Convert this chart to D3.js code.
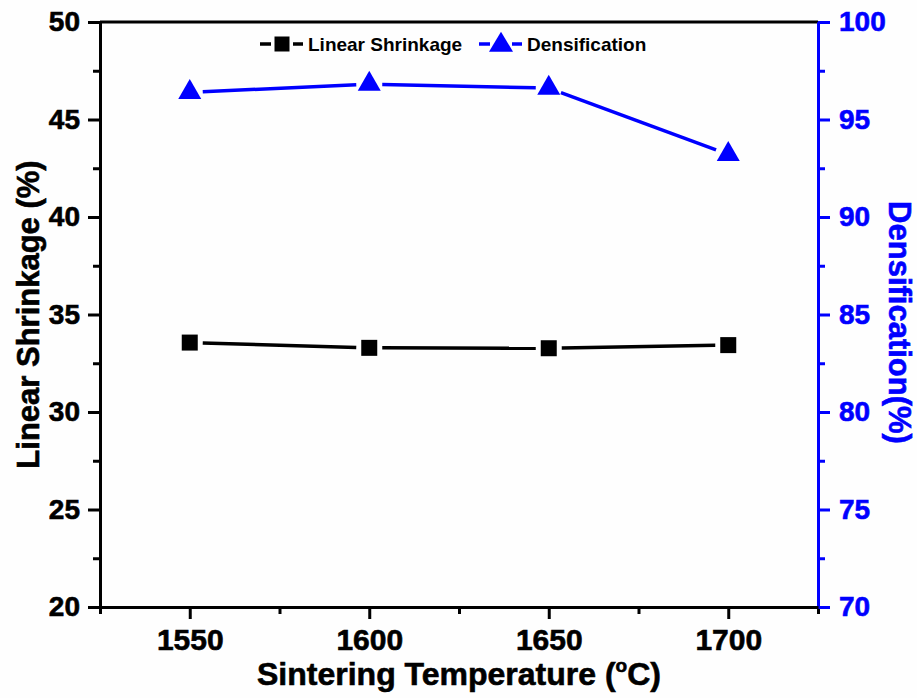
<!DOCTYPE html>
<html>
<head>
<meta charset="utf-8">
<script src="https://cdn.jsdelivr.net/npm/d3@7"></script>
<style>
  body { margin: 0; background: #fff; }
  text { font-family: "Liberation Sans", Arial, sans-serif; font-weight: bold; }
</style>
</head>
<body>
<div id="wrapper"></div>
<script>
// data
const temperatures = [1550, 1600, 1650, 1700]
const shrinkage = [33.56, 33.29, 33.27, 33.43]
const densification = [96.39, 96.81, 96.61, 93.21]

const xTicks = [1550, 1600, 1650, 1700]
const xMinorTicks = [1525, 1575, 1625, 1675, 1725]
const leftTicks = [20, 25, 30, 35, 40, 45, 50]
const leftMinorTicks = [22.5, 27.5, 32.5, 37.5, 42.5, 47.5]
const rightTicks = [70, 75, 80, 85, 90, 95, 100]
const rightMinorTicks = [72.5, 77.5, 82.5, 87.5, 92.5, 97.5]

const seriesNames = ["Linear Shrinkage", "Densification"]

function drawChart() {
  const blue = "#0000ff"

  let dimensions = {
    width: 917,
    height: 698,
    margins: { top: 22, right: 99, bottom: 91, left: 100 },
  }
  dimensions.boundedWidth = dimensions.width - dimensions.margins.left - dimensions.margins.right
  dimensions.boundedHeight = dimensions.height - dimensions.margins.top - dimensions.margins.bottom

  const wrapper = d3.select("#wrapper")
    .append("svg")
    .attr("width", dimensions.width)
    .attr("height", dimensions.height)

  wrapper.append("rect")
    .attr("width", dimensions.width)
    .attr("height", dimensions.height)
    .attr("fill", "#fefefe")

  const bounds = wrapper.append("g")
    .attr("transform", `translate(${dimensions.margins.left},${dimensions.margins.top})`)

  // scales
  const xScale = d3.scaleLinear().domain([1525, 1725]).range([0, dimensions.boundedWidth])
  const yLeft = d3.scaleLinear().domain([20, 50]).range([dimensions.boundedHeight, 0])
  const yRight = d3.scaleLinear().domain([70, 100]).range([dimensions.boundedHeight, 0])

  // markers
  const square = (g, x, y, s, color) => g.append("rect")
    .attr("x", x - s / 2).attr("y", y - s / 2)
    .attr("width", s).attr("height", s)
    .attr("fill", color)

  const triangle = (g, x, y, w, h, color) => g.append("path")
    .attr("d", `M${x},${y - h * 2 / 3}L${x + w / 2},${y + h / 3}L${x - w / 2},${y + h / 3}Z`)
    .attr("fill", color)

  // line segments that stop short of the markers
  function drawGappedLine(points, color, gap) {
    for (let i = 0; i < points.length - 1; i++) {
      const [x1, y1] = points[i]
      const [x2, y2] = points[i + 1]
      const len = Math.hypot(x2 - x1, y2 - y1)
      const ux = (x2 - x1) / len, uy = (y2 - y1) / len
      bounds.append("line")
        .attr("x1", x1 + ux * gap).attr("y1", y1 + uy * gap)
        .attr("x2", x2 - ux * gap).attr("y2", y2 - uy * gap)
        .attr("stroke", color)
        .attr("stroke-width", 3.5)
    }
  }

  const shrinkPoints = temperatures.map((t, i) => [xScale(t), yLeft(shrinkage[i])])
  const densPoints = temperatures.map((t, i) => [xScale(t), yRight(densification[i])])

  drawGappedLine(shrinkPoints, "#000", 13)
  drawGappedLine(densPoints, blue, 13)

  shrinkPoints.forEach(([x, y]) => square(bounds, x, y, 16, "#000"))
  densPoints.forEach(([x, y]) => triangle(bounds, x, y, 23, 20, blue))

  // axes
  const styleAxis = (g, color, size) => {
    g.select(".domain").attr("stroke", color).attr("stroke-width", 3)
    g.selectAll(".tick line").attr("stroke", color).attr("stroke-width", 3)
    g.selectAll(".tick text")
      .attr("fill", color)
      .attr("stroke", color)
      .attr("stroke-width", 0.6)
      .style("font-size", `${size}px`)
  }

  // top border
  bounds.append("line")
    .attr("x1", 0).attr("x2", dimensions.boundedWidth)
    .attr("y1", 0).attr("y2", 0)
    .attr("stroke", "#000").attr("stroke-width", 3)

  // minor ticks first
  bounds.append("g")
    .call(d3.axisLeft(yLeft).tickValues(leftMinorTicks).tickSize(7).tickSizeOuter(0).tickFormat(""))
    .call(g => styleAxis(g, "#000", 28))
  bounds.append("g")
    .attr("transform", `translate(${dimensions.boundedWidth},0)`)
    .call(d3.axisRight(yRight).tickValues(rightMinorTicks).tickSize(7).tickSizeOuter(0).tickFormat(""))
    .call(g => styleAxis(g, blue, 28))
  bounds.append("g")
    .attr("transform", `translate(0,${dimensions.boundedHeight})`)
    .call(d3.axisBottom(xScale).tickValues(xMinorTicks).tickSize(7).tickSizeOuter(0).tickFormat(""))
    .call(g => styleAxis(g, "#000", 28))

  const yAxisLeft = bounds.append("g")
    .call(d3.axisLeft(yLeft).tickValues(leftTicks).tickSize(12).tickSizeOuter(0).tickPadding(8))
    .call(g => styleAxis(g, "#000", 28))

  const yAxisRight = bounds.append("g")
    .attr("transform", `translate(${dimensions.boundedWidth},0)`)
    .call(d3.axisRight(yRight).tickValues(rightTicks).tickSize(12).tickSizeOuter(0).tickPadding(9))
    .call(g => styleAxis(g, blue, 28))

  const xAxis = bounds.append("g")
    .attr("transform", `translate(0,${dimensions.boundedHeight})`)
    .call(d3.axisBottom(xScale).tickValues(xTicks).tickFormat(d3.format("d"))
      .tickSize(12).tickSizeOuter(0).tickPadding(10))
    .call(g => styleAxis(g, "#000", 30))

  // axis titles
  const xTitle = wrapper.append("text")
    .attr("x", dimensions.margins.left + dimensions.boundedWidth / 2)
    .attr("y", 685)
    .attr("text-anchor", "middle")
    .attr("stroke", "#000").attr("stroke-width", 0.6)
    .style("font-size", "32px")
  xTitle.append("tspan").text("Sintering Temperature (")
  xTitle.append("tspan").text("o").style("font-size", "19px").attr("dy", -13)
  xTitle.append("tspan").text("C)").attr("dy", 13)

  wrapper.append("text")
    .attr("transform", `translate(39,${dimensions.margins.top + dimensions.boundedHeight / 2}) rotate(-90)`)
    .attr("text-anchor", "middle")
    .attr("stroke", "#000").attr("stroke-width", 0.6)
    .style("font-size", "31px")
    .text("Linear Shrinkage (%)")

  wrapper.append("text")
    .attr("transform", `translate(889,${dimensions.margins.top + dimensions.boundedHeight / 2 + 8}) rotate(90)`)
    .attr("text-anchor", "middle")
    .attr("fill", blue)
    .attr("stroke", blue).attr("stroke-width", 0.6)
    .style("font-size", "31px")
    .text("Densification(%)")

  // legend
  const legend = wrapper.append("g")
  const legendItems = [
    { name: seriesNames[0], color: "#000", x: 260, marker: "square" },
    { name: seriesNames[1], color: blue, x: 479, marker: "triangle" },
  ]
  legendItems.forEach(item => {
    const cy = 44
    legend.append("line")
      .attr("x1", item.x).attr("x2", item.x + 43)
      .attr("y1", cy).attr("y2", cy)
      .attr("stroke", item.color).attr("stroke-width", 3.5)
      .attr("stroke-dasharray", "11,22,11")
    if (item.marker === "square") square(legend, item.x + 22, cy, 15, item.color)
    else triangle(legend, item.x + 22, cy + 1, 24, 20, item.color)
    legend.append("text")
      .attr("x", item.x + 48)
      .attr("y", cy + 6.5)
      .style("font-size", "19px")
      .text(item.name)
  })
}
drawChart()
</script>
</body>
</html>
